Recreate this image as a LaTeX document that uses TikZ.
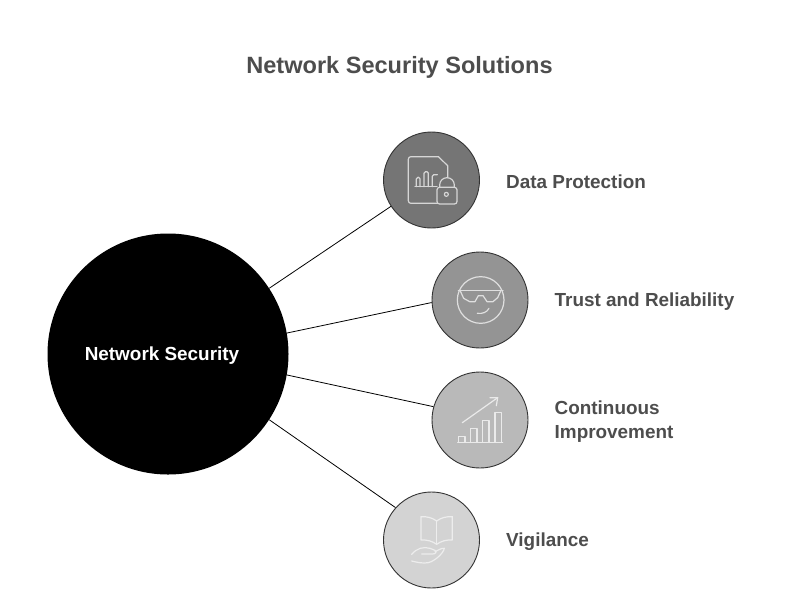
\documentclass[tikz,border=0pt]{standalone}
\usepackage{fontspec}
\setmainfont{Liberation Sans}
\definecolor{txt}{HTML}{4D4D4D}
\definecolor{cA}{HTML}{757575}
\definecolor{cB}{HTML}{949494}
\definecolor{cC}{HTML}{B9B9B9}
\definecolor{cD}{HTML}{D3D3D3}
\tikzset{
  sat/.style={circle,draw=black!80,line width=0.9pt,minimum size=96pt,inner sep=0pt},
  lab/.style={anchor=west,align=left,text=txt,font=\fontsize{18.9}{24}\selectfont\bfseries,inner sep=0pt},
  link/.style={draw=black,line width=0.8pt},
  ico/.style={line width=1.2pt,line cap=round,line join=round,fill=none},
}
\begin{document}
\begin{tikzpicture}[x=1pt,y=-1pt]
\useasboundingbox[fill=white] (0,0) rectangle (792,611);
\node[text=txt,font=\fontsize{23.55}{28}\selectfont\bfseries,inner sep=0pt] (title) at (399.5,67.5) {Network Security Solutions};
\node[circle,fill=black,minimum size=241pt,inner sep=0pt] (hub) at (168,354) {};
\node[text=white,font=\fontsize{18.9}{22}\selectfont\bfseries,inner sep=0pt] (hublab) at (162,356) {Network Security};
\node[sat,fill=cA] (n1) at (431.5,180) {};
\node[sat,fill=cB] (n2) at (480,300) {};
\node[sat,fill=cC] (n3) at (480,420) {};
\node[sat,fill=cD] (n4) at (431.5,540) {};
\draw[link] (hub.33.4) -- (n1.213.4);
\draw[link] (hub.10.9) -- (n2.183.6);
\draw[link] (hub.-10.9) -- (n3.164);
\draw[link] (hub.-33.4) -- (n4.138);
\node[lab] (l1) at (506,182) {Data Protection};
\node[lab] (l2) at (554.5,302) {Trust and Reliability};
\node[lab] (l3) at (554.5,422) {Continuous\\Improvement};
\node[lab] (l4) at (506,542) {Vigilance};
% icon 1
\begin{scope}[shift={(375,125)},x=0.3333pt,y=-0.3333pt,draw=white!70!cA]
\draw[ico,rounded corners=2.5pt] (187,235) -- (100,235) -- (100,95) -- (190,95);
\draw[ico] (190,95) -- (218,122) -- (218,158);
\draw[ico] (120,185) -- (186,185);
\draw[ico,rounded corners=1.5pt] (124,185) -- (124,157) -- (135,157) -- (135,185);
\draw[ico,rounded corners=1.5pt] (147,185) -- (147,140) -- (160,140) -- (160,185);
\draw[ico,rounded corners=1.5pt] (172,185) -- (172,149) -- (187,149);
\draw[ico,rounded corners=2.5pt] (186,187) rectangle (246,237);
\draw[ico] (194,187) -- (194,180) arc[start angle=180,end angle=360,radius=22] -- (238,187);
\draw[ico] (214,208) circle[radius=6];
\end{scope}
% icon 2
\begin{scope}[shift={(425,245)},x=0.3333pt,y=-0.3333pt,draw=white!70!cB]
\draw[ico] (167,165) circle[radius=70];
\draw[ico] (100,136) -- (234,136);
\draw[ico] (105,136) -- (116,160) -- (134,170) -- (150,170) -- (160,152) -- (174,152) -- (186,170) -- (204,170) -- (218,158) -- (228,136);
\draw[ico] (157,205) .. controls (172,207) and (186,202) .. (192,190);
\end{scope}
% icon 3
\begin{scope}[shift={(425,365)},x=0.3333pt,y=-0.3333pt,draw=white!70!cC]
\draw[ico] (98,232) -- (233,232);
\draw[ico] (101,232) -- (101,214) -- (120,214) -- (120,232);
\draw[ico] (137,232) -- (137,190) -- (156,190) -- (156,232);
\draw[ico] (173,232) -- (173,166) -- (192,166) -- (192,232);
\draw[ico] (210,232) -- (210,142) -- (229,142) -- (229,232);
\draw[ico] (112,173) -- (218,98);
\draw[ico] (195,98) -- (218,98) -- (214,122);
\end{scope}
% icon 4
\begin{scope}[shift={(375,485)},x=0.3333pt,y=-0.3333pt,draw=white!60!cD]
\draw[ico] (185,108) .. controls (172,98) and (155,94) .. (138,95) -- (138,165) .. controls (155,164) and (172,168) .. (185,178) .. controls (198,168) and (215,164) .. (232,165) -- (232,95) .. controls (215,94) and (198,98) .. (185,108) -- cycle;
\draw[ico] (185,108) -- (185,178);
\draw[ico] (110,208) .. controls (125,190) and (145,184) .. (165,190) -- (180,196) .. controls (188,200) and (180,208) .. (172,207) -- (140,207);
\draw[ico] (180,200) .. controls (190,196) and (200,188) .. (208,190) .. controls (205,205) and (180,228) .. (160,233) .. controls (145,236) and (125,232) .. (110,228);
\end{scope}
\end{tikzpicture}
\end{document}
